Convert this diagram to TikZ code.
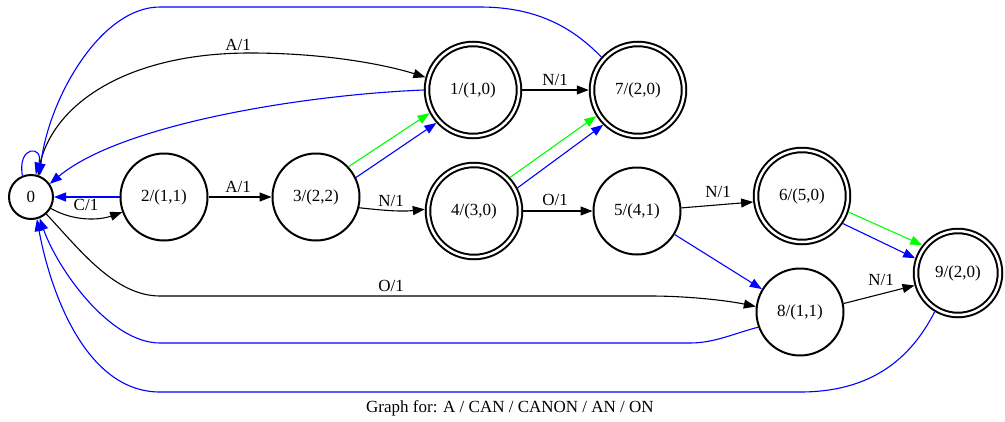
\documentclass[tikz,border=0pt]{standalone}
\usepackage{fontspec}
\setmainfont{Liberation Serif}
\usetikzlibrary{arrows.meta}
\begin{document}
\begin{tikzpicture}[x=1pt,y=-1pt,
  every node/.style={font=\fontsize{17}{20}\selectfont},
  plainstate/.style={circle,draw,line width=2pt,minimum size=87pt,inner sep=0pt,outer sep=1pt},
  initstate/.style={plainstate,minimum size=44pt},
  acceptstate/.style={plainstate,double,double distance=2.5pt,minimum size=92pt,outer sep=3.25pt},
  trans/.style={line width=1.1pt,-{Triangle[length=12pt,width=9pt]}},
  failarc/.style={trans,blue},
  greenarc/.style={trans,green},
  lbl/.style={inner sep=1pt}
]
\useasboundingbox (0,0) rectangle (1005,421);

% nodes
\node[initstate] (n0) at (31,197) {0};
\node[plainstate] (n2) at (164,197) {2/(1,1)};
\node[plainstate] (n3) at (316,197) {3/(2,2)};
\node[acceptstate] (n1) at (473,90) {1/(1,0)};
\node[acceptstate] (n7) at (638,90) {7/(2,0)};
\node[acceptstate] (n4) at (474,211) {4/(3,0)};
\node[plainstate] (n5) at (637,211) {5/(4,1)};
\node[acceptstate] (n6) at (802,196) {6/(5,0)};
\node[plainstate] (n8) at (800,312) {8/(1,1)};
\node[acceptstate,minimum size=84pt] (n9) at (958,273) {9/(2,0)};

% black transitions
\draw[trans] (n0.72) .. controls (45,110) and (120,53) .. (250,53) .. controls (330,53) and (390,66) .. (n1.165);
\node[lbl] (l01) at (238,45) {A/1};

\draw[trans] (n0.-30) .. controls (75,222) and (100,220) .. (n2.-160);
\node[lbl] (l02) at (86,205) {C/1};

\draw[trans] (n2.0) -- (n3.180);
\node[lbl] (l23) at (238,187) {A/1};

\draw[trans] (n3.-14) .. controls (380,210) and (400,212) .. (n4.178);
\node[lbl] (l34) at (391,201) {N/1};

\draw[trans] (n4.0) -- (n5.180);
\node[lbl] (l45) at (555,200) {O/1};

\draw[trans] (n1.0) -- (n7.180);
\node[lbl] (l17) at (555,80) {N/1};

\draw[trans] (n5.4) -- (n6.187);
\node[lbl] (l56) at (718,192) {N/1};

\draw[trans] (n8.11) -- (n9.196);
\node[lbl] (l89) at (881,280) {N/1};

\draw[trans] (n0.-48) .. controls (80,250) and (115,296) .. (160,296) -- (650,296) .. controls (690,296) and (730,301) .. (n8.173);
\node[lbl] (l08) at (391,286) {O/1};

% green / blue parallel links
\draw[greenarc] (n3.43) -- (n1.-152);
\draw[failarc] (n3.26) -- (n1.-138);
\draw[greenarc] (n4.43) -- (n7.-148);
\draw[failarc] (n4.28) -- (n7.-135);
\draw[greenarc] (n6.-19) -- (n9.142);
\draw[failarc] (n6.-34) -- (n9.161);
\draw[failarc] (n5.-32) -- (n8.149);

% blue failure links back to 0
\draw[failarc] (n2.180) -- (n0.0);
\draw[failarc] (n1.180) .. controls (300,95) and (120,125) .. (n0.35);
\draw[failarc] (n7.138) .. controls (575,30) and (540,7) .. (480,7) -- (160,7) .. controls (100,7) and (48,100) .. (n0.68);
\draw[failarc] (n0.112) .. controls (17,145) and (44,145) .. (n0.78);
\draw[failarc] (n8.-160) .. controls (735,333) and (715,343) .. (690,343) -- (160,343) .. controls (110,343) and (58,270) .. (n0.-68);
\draw[failarc] (n9.-121) .. controls (910,360) and (870,392) .. (800,392) -- (160,392) .. controls (85,392) and (50,290) .. (n0.-75);

\node[lbl] (title) at (510,408) {Graph for: A / CAN / CANON / AN / ON};
\end{tikzpicture}
\end{document}
